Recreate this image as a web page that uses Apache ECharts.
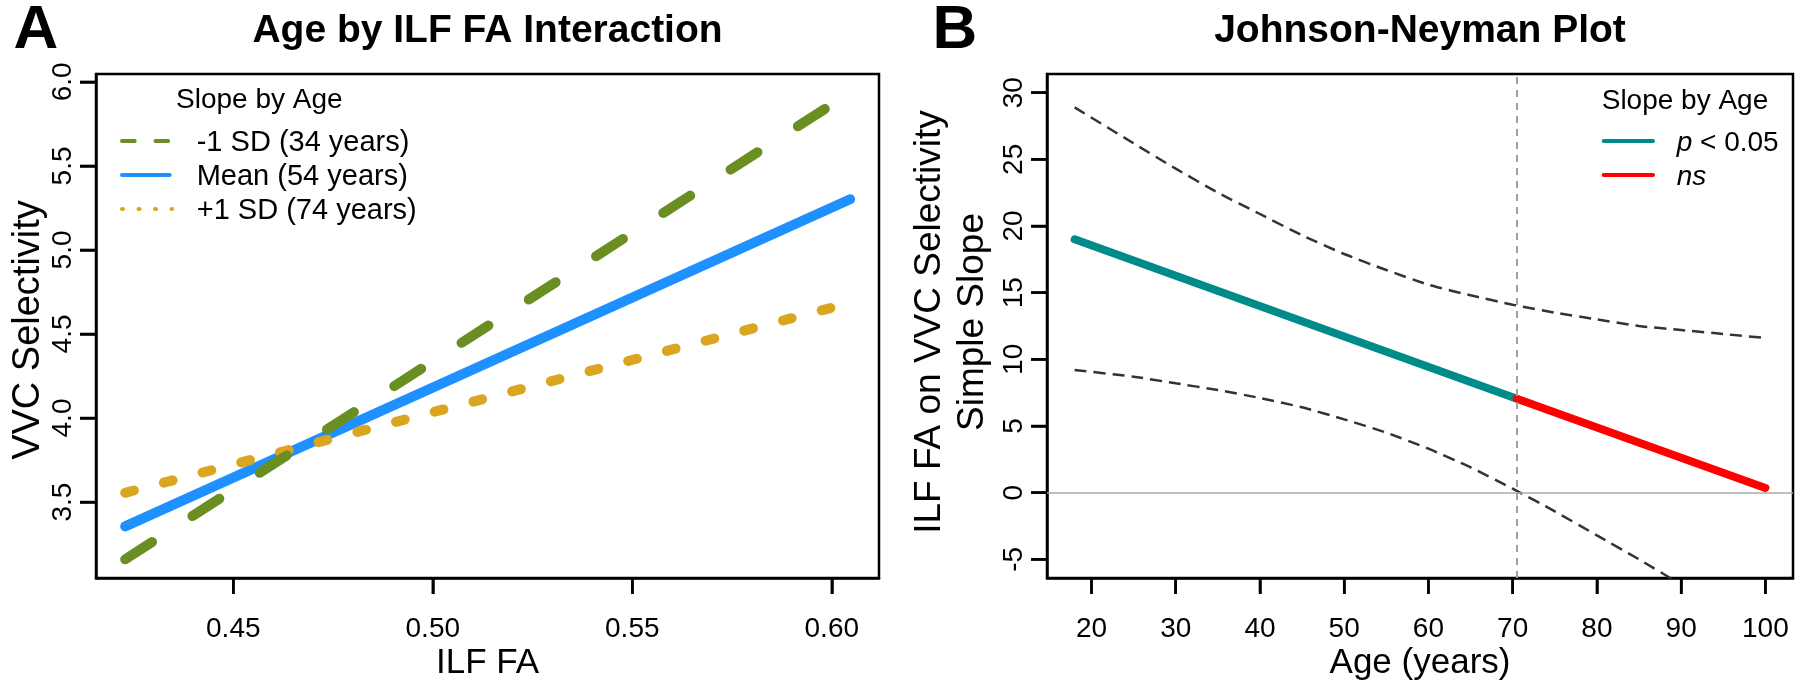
<!DOCTYPE html>
<html>
<head>
<meta charset="utf-8">
<script src="https://cdn.jsdelivr.net/npm/echarts@6/dist/echarts.min.js"></script>
<style>
html,body{margin:0;padding:0;background:#fff;}
#chart{width:1800px;height:691px;}
</style>
</head>
<body>
<div id="chart"></div>
<script>
// ---------- Panel A data ----------
const faRange = [0.4229, 0.6046];
const vvcMinus1SD = [3.159, 5.936];
const vvcMean = [3.355, 5.302];
const vvcPlus1SD = [3.555, 4.685];
const legendLabelsA = ['-1 SD (34 years)', 'Mean (54 years)', '+1 SD (74 years)'];
const faTicks = [0.45, 0.50, 0.55, 0.60];
const vvcTicks = [3.5, 4.0, 4.5, 5.0, 5.5, 6.0];

// ---------- Panel B data ----------
const slopeAge = [18, 70.5, 100];
const slopeValue = [19.0, 7.05, 0.35];
const ciAge = [18, 25, 30, 35, 40, 45, 50, 55, 60, 65, 70, 75, 80, 85, 90, 95, 100];
const ciUpper = [28.9, 26.2, 24.3, 22.5, 20.9, 19.3, 17.9, 16.7, 15.6, 14.8, 14.1, 13.5, 13.0, 12.5, 12.2, 11.9, 11.6];
const ciLower = [9.2, 8.7, 8.2, 7.7, 7.1, 6.4, 5.5, 4.5, 3.3, 1.9, 0.3, -1.4, -3.2, -5.0, -6.9, -8.9, -10.9];
const jnBoundary = 70.5;
const ageTicks = [20, 30, 40, 50, 60, 70, 80, 90, 100];
const slopeTicks = [-5, 0, 5, 10, 15, 20, 25, 30];
const legendLabelsB = ['{i|p} < 0.05', '{i|ns}'];

const FF = '"Liberation Sans", Arial, Helvetica, sans-serif';
const pair = (xs, ys) => xs.map((x, i) => [x, ys[i]]);

function axisCommon(ticks, fmt, extraLabel) {
  return {
    axisLine: {show: true, onZero: false, lineStyle: {color: '#000', width: 2.5}},
    splitLine: {show: false},
    axisTick: {show: true, customValues: ticks, length: 16, lineStyle: {color: '#000', width: 2.5}},
    axisLabel: Object.assign({customValues: ticks, formatter: fmt, fontSize: 28, fontFamily: FF, color: '#000'}, extraLabel)
  };
}
function mkX(grid, min, max, ticks, fmt) {
  return Object.assign({gridIndex: grid, type: 'value', min: min, max: max},
    axisCommon(ticks, fmt, {margin: 37}));
}
function mkY(grid, min, max, ticks, fmt) {
  return Object.assign({gridIndex: grid, type: 'value', min: min, max: max},
    axisCommon(ticks, fmt, {rotate: 90, margin: 19}));
}
function txt(x, y, text, size, opts) {
  opts = opts || {};
  return {
    type: 'text', x: x, y: y, rotation: opts.rot || 0, silent: true, z: 100,
    style: {
      text: text, fill: '#000', fontSize: size, fontFamily: FF,
      fontWeight: opts.bold ? 'bold' : 'normal',
      align: opts.align || 'center', textAlign: opts.align || 'center',
      verticalAlign: 'middle', textVerticalAlign: 'middle',
      rich: opts.rich
    }
  };
}
function seg(x1, y1, x2, y2, color, width, dash) {
  const st = {stroke: color, lineWidth: width, lineCap: 'round'};
  if (dash) st.lineDash = dash;
  return {type: 'line', silent: true, z: 100, shape: {x1: x1, y1: y1, x2: x2, y2: y2}, style: st};
}
function tickRect(x, y, w, h) {
  return {type: 'rect', z: 100, shape: {x: x, y: y, width: w, height: h}, style: {fill: '#000'}};
}

const colMinus = '#6B8E23', colMean = '#1E90FF', colPlus = '#DAA520';
const colSig = '#008B8B', colNs = '#FF0000';

const richB = {i: {fontStyle: 'italic', fontSize: 28, fontFamily: FF, fill: '#000'}};

const option = {
  animation: false,
  grid: [
    {left: 96, top: 74, width: 783, height: 504, show: true, borderColor: '#000', borderWidth: 2.5},
    {left: 1047, top: 74, width: 746, height: 504, show: true, borderColor: '#000', borderWidth: 2.5}
  ],
  xAxis: [
    mkX(0, 0.41559, 0.61183, faTicks, v => v.toFixed(2)),
    mkX(1, 14.72, 103.28, ageTicks, v => String(v))
  ],
  yAxis: [
    mkY(0, 3.048, 6.047, vvcTicks, v => v.toFixed(1)),
    mkY(1, -6.4, 31.4, slopeTicks, v => String(v))
  ],
  series: [
    {type: 'line', xAxisIndex: 0, yAxisIndex: 0, data: pair(faRange, vvcMean), symbol: 'none', z: 2,
     lineStyle: {color: colMean, width: 10, cap: 'round'}},
    {type: 'line', xAxisIndex: 0, yAxisIndex: 0, data: pair(faRange, vvcPlus1SD), symbol: 'none', z: 3,
     lineStyle: {color: colPlus, width: 10, cap: 'round', type: [9, 31]}},
    {type: 'line', xAxisIndex: 0, yAxisIndex: 0, data: pair(faRange, vvcMinus1SD), symbol: 'none', z: 4,
     lineStyle: {color: colMinus, width: 10, cap: 'round', type: [32, 48]}},

    {type: 'line', xAxisIndex: 1, yAxisIndex: 1, data: pair(ciAge, ciUpper), symbol: 'none', smooth: 0.2, z: 2,
     lineStyle: {color: '#333', width: 2.5, type: [12, 7]},
     markLine: {symbol: ['none', 'none'], silent: true, label: {show: false}, animation: false,
       data: [
         {xAxis: jnBoundary, lineStyle: {color: '#a0a0a0', width: 2, type: [7, 6]}},
         {yAxis: 0, lineStyle: {color: '#aaaaaa', width: 1.5, type: 'solid'}}
       ]}},
    {type: 'line', xAxisIndex: 1, yAxisIndex: 1, data: pair(ciAge, ciLower), symbol: 'none', smooth: 0.2, z: 2,
     lineStyle: {color: '#333', width: 2.5, type: [12, 7]}},
    {type: 'line', xAxisIndex: 1, yAxisIndex: 1, data: pair(slopeAge.slice(0, 2), slopeValue.slice(0, 2)), symbol: 'none', z: 4,
     lineStyle: {color: colSig, width: 8, cap: 'round'}},
    {type: 'line', xAxisIndex: 1, yAxisIndex: 1, data: pair(slopeAge.slice(1), slopeValue.slice(1)), symbol: 'none', z: 4,
     lineStyle: {color: colNs, width: 8, cap: 'round'}}
  ]
};

const chart = echarts.init(document.getElementById('chart'));
chart.setOption(option);

// Backup tick marks (filled rects), positioned through the grids' own scales
const TICK = 16, TW = 2.5;
const tickEls = [];
function addTicks(gi, xTicks, yTicks, xMin, yMin) {
  xTicks.forEach(v => {
    const p = chart.convertToPixel({gridIndex: gi}, [v, yMin]);
    if (p && isFinite(p[0]) && isFinite(p[1])) tickEls.push(tickRect(p[0] - TW / 2, p[1], TW, TICK));
  });
  yTicks.forEach(v => {
    const p = chart.convertToPixel({gridIndex: gi}, [xMin, v]);
    if (p && isFinite(p[0]) && isFinite(p[1])) tickEls.push(tickRect(p[0] - TICK, p[1] - TW / 2, TICK, TW));
  });
}
addTicks(0, faTicks, vvcTicks, 0.41559, 3.048);
addTicks(1, ageTicks, slopeTicks, 14.72, -6.4);

const graphicEls = tickEls.concat([
  txt(36, 31, 'A', 62, {bold: true}),
  txt(955, 31, 'B', 62, {bold: true}),
  txt(487.5, 31, 'Age by ILF FA Interaction', 39, {bold: true}),
  txt(1420, 31, 'Johnson-Neyman Plot', 39, {bold: true}),
  txt(487.5, 663, 'ILF FA', 35),
  txt(1420, 663, 'Age (years)', 35),
  txt(29, 330, 'VVC Selectivity', 38, {rot: Math.PI / 2}),
  txt(930, 322, 'ILF FA on VVC Selectivity', 37, {rot: Math.PI / 2}),
  txt(973, 322, 'Simple Slope', 37, {rot: Math.PI / 2}),

  // legend A
  txt(176, 100, 'Slope by Age', 28, {align: 'left'}),
  seg(122, 141, 170, 141, colMinus, 4, [12.7, 20.8]),
  seg(122, 175, 169.7, 175, colMean, 4, null),
  seg(122, 209, 172, 209, colPlus, 4, [1, 15.5]),
  txt(196.7, 143, legendLabelsA[0], 29, {align: 'left'}),
  txt(196.7, 177, legendLabelsA[1], 29, {align: 'left'}),
  txt(196.7, 211, legendLabelsA[2], 29, {align: 'left'}),

  // legend B
  txt(1601.7, 101, 'Slope by Age', 28, {align: 'left'}),
  seg(1603.7, 141, 1653, 141, colSig, 4, null),
  seg(1603.7, 175, 1653, 175, colNs, 4, null),
  txt(1676.7, 143, legendLabelsB[0], 28, {align: 'left', rich: richB}),
  txt(1676.7, 177, legendLabelsB[1], 28, {align: 'left', rich: richB})
]);

chart.setOption({graphic: graphicEls});
</script>
</body>
</html>
